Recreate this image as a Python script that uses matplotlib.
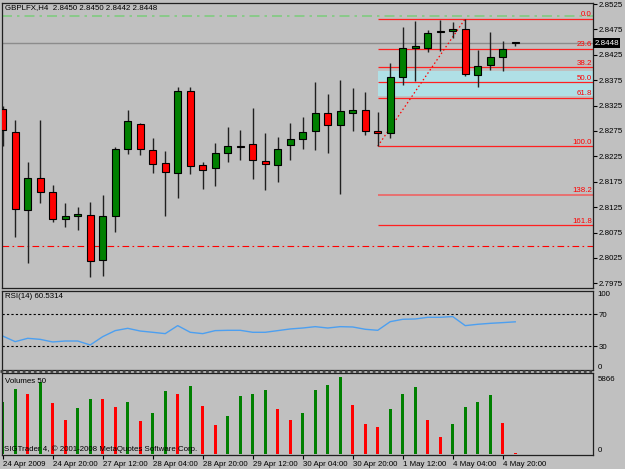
import matplotlib.pyplot as plt
from matplotlib.transforms import blended_transform_factory

plt.rcParams['font.family'] = ['Liberation Sans', 'DejaVu Sans']

# H4 candles, GBPLFX
opens = [2.8318, 2.8272, 2.8120, 2.8182, 2.8155, 2.8102, 2.8107, 2.8109, 2.8020, 2.8108,
         2.8240, 2.8289, 2.8237, 2.8211, 2.8192, 2.8354, 2.8207, 2.8203, 2.8231, 2.8246,
         2.8249, 2.8215, 2.8207, 2.8247, 2.8260, 2.8274, 2.8311, 2.8286, 2.8311, 2.8317,
         2.8275, 2.8270, 2.8381, 2.8439, 2.8439, 2.8469, 2.8472, 2.8476, 2.8386, 2.8404,
         2.8421, 2.8450]
highs = [2.8325, 2.8296, 2.8213, 2.8297, 2.8168, 2.8133, 2.8125, 2.8136, 2.8148, 2.8243,
         2.8316, 2.8290, 2.8261, 2.8236, 2.8362, 2.8361, 2.8213, 2.8251, 2.8282, 2.8277,
         2.8320, 2.8270, 2.8263, 2.8291, 2.8302, 2.8371, 2.8348, 2.8375, 2.8360, 2.8351,
         2.8312, 2.8408, 2.8479, 2.8492, 2.8473, 2.8493, 2.8490, 2.8496, 2.8434, 2.8469,
         2.8452, 2.8450]
lows = [2.8246, 2.8067, 2.8015, 2.8134, 2.8096, 2.8085, 2.8079, 2.7988, 2.7990, 2.8076,
        2.8230, 2.8228, 2.8192, 2.8107, 2.8142, 2.8191, 2.8161, 2.8167, 2.8214, 2.8218,
        2.8180, 2.8158, 2.8175, 2.8218, 2.8240, 2.8238, 2.8232, 2.8150, 2.8275, 2.8268,
        2.8245, 2.8261, 2.8366, 2.8373, 2.8430, 2.8433, 2.8458, 2.8384, 2.8361, 2.8395,
        2.8394, 2.8442]
closes = [2.8276, 2.8122, 2.8182, 2.8155, 2.8101, 2.8108, 2.8111, 2.8018, 2.8108, 2.8240,
          2.8294, 2.8239, 2.8209, 2.8194, 2.8354, 2.8206, 2.8198, 2.8232, 2.8245, 2.8243,
          2.8217, 2.8209, 2.8240, 2.8260, 2.8272, 2.8310, 2.8286, 2.8314, 2.8316, 2.8275,
          2.8270, 2.8381, 2.8438, 2.8442, 2.8467, 2.8472, 2.8476, 2.8388, 2.8403, 2.8420,
          2.8437, 2.8448]
volumes = [3940, 5006, 4625, 5510, 3863, 2614, 3505, 4214, 4180, 3559,
           3940, 2492, 3101, 4800, 4572, 5182, 3680, 2210, 2896, 4473,
           4625, 4877, 3406, 2614, 3147, 4930, 5311, 5866, 3734, 2263,
           2035, 3429, 4572, 5105, 2568, 1295, 2263, 3559, 3940, 4519,
           2339, 40]
rsi = [42.6, 35.5, 39.7, 38.4, 35.1, 36.3, 36.3, 31.3, 41.8, 49.4,
       52.3, 48.9, 47.3, 45.6, 55.7, 47.3, 45.6, 49.4, 49.8, 49.8,
       47.3, 47.3, 49.4, 51.5, 52.7, 54.4, 52.7, 54.4, 54.0, 51.1,
       49.8, 60.7, 63.7, 64.1, 66.2, 66.2, 67.1, 55.7, 57.4, 58.6,
       59.5, 60.5]
time_labels = ['24 Apr 2009', '24 Apr 20:00', '27 Apr 12:00', '28 Apr 04:00', '28 Apr 20:00',
               '29 Apr 12:00', '30 Apr 04:00', '30 Apr 20:00', '1 May 12:00', '4 May 04:00',
               '4 May 20:00']

fib_high = 2.8496
fib_low = 2.8245
fib_start, fib_end = 30, 37
fib_levels = [0.0, 23.6, 38.2, 50.0, 61.8, 100.0, 138.2, 161.8]
zone_top, zone_bottom = 2.8394, 2.8344
green_line = 2.8502
red_line = 2.8048
bid = 2.8448
price_ticks = [2.8525, 2.8475, 2.8425, 2.8375, 2.8325, 2.8275, 2.8225,
               2.8175, 2.8125, 2.8075, 2.8025, 2.7975]

W, H = 625, 469
BG = '#c0c0c0'
FS = 5.7
n = len(closes)
idx = list(range(n))
xlim = (-0.056, 47.22)


def panel(top, bottom):
    return fig.add_axes([2 / W, 1 - bottom / H, 591 / W, (bottom - top) / H])


def style(ax):
    ax.set_facecolor(BG)
    for s in ax.spines.values():
        s.set_color('#202020')
        s.set_linewidth(0.9)
    ax.set_xlim(*xlim)
    ax.yaxis.tick_right()
    ax.tick_params(axis='y', labelsize=FS, length=3, width=0.8, pad=1, colors='black')
    ax.tick_params(axis='x', bottom=False, labelbottom=False)


fig = plt.figure(figsize=(W / 100, H / 100), dpi=100, facecolor=BG)

# ---- price panel
ax = panel(3, 288)
style(ax)
ax.set_ylim(2.79657, 2.85270)
ax.set_yticks(price_ticks)
ax.set_yticklabels([f'{p:.4f}' for p in price_ticks])
for lab in ax.get_yticklabels():
    lab.set_horizontalalignment('left')

ax.axhline(green_line, color='#80cc80', lw=1.2, ls=(0, (6, 3, 1.5, 3)), zorder=1)
ax.axhline(red_line, color='red', lw=0.8, ls=(0, (6, 3, 1.5, 3)), zorder=1)
ax.axhline(bid, color='#8c8c8c', lw=1.0, zorder=1)

ax.fill_between([fib_start, xlim[1]], zone_bottom, zone_top, color='#b0e0e6', lw=0, zorder=1)
trans = blended_transform_factory(ax.transAxes, ax.transData)
for lev in fib_levels:
    p = fib_high - (fib_high - fib_low) * lev / 100
    ax.hlines(p, fib_start, xlim[1], color='#ff2020' if lev != 138.2 else '#e87070',
              lw=0.9 if lev != 138.2 else 1.4, zorder=2)
    ax.text(0.998, p + 0.00008, f'{lev:.1f}', transform=trans, ha='right', va='bottom',
            color='red', fontsize=FS, zorder=6)
ax.plot([fib_start, fib_end], [fib_low, fib_high], color='red', lw=0.9, ls=(0, (1.2, 2)), zorder=2)

ax.vlines(idx, lows, highs, color='#202020', lw=1.0, zorder=3)
body_bottom = [min(o, c) for o, c in zip(opens, closes)]
body_height = [max(abs(c - o), 0.00004) for o, c in zip(opens, closes)]
body_color = ['#008000' if c >= o else '#ff0000' for o, c in zip(opens, closes)]
ax.bar(idx, body_height, bottom=body_bottom, width=0.56, color=body_color,
       edgecolor='black', linewidth=0.8, zorder=4)

ax.text(3 / 591, 0.995, 'GBPLFX,H4  2.8450 2.8450 2.8442 2.8448', transform=ax.transAxes,
        ha='left', va='top', fontsize=FS, color='black')
ax.text(1.002, bid, '2.8448', transform=trans, ha='left', va='center', fontsize=FS,
        color='white', bbox=dict(boxstyle='square,pad=0.15', fc='black', ec='none'), zorder=7)

# ---- RSI panel
ar = panel(290.5, 369.8)
style(ar)
ar.set_ylim(0, 100)
ar.set_yticks([70, 30])
ar.set_yticklabels(['70', '30'])
ar.axhline(70, color='black', lw=0.8, ls=(0, (2, 2)))
ar.axhline(30, color='black', lw=0.8, ls=(0, (2, 2)))
ar.plot(idx, rsi, color='#4c9ff0', lw=1.0)
rtrans = blended_transform_factory(ar.transAxes, ar.transData)
ar.text(1.008, 95.5, '100', transform=rtrans, ha='left', va='center', fontsize=FS)
ar.text(1.008, 3.5, '0', transform=rtrans, ha='left', va='center', fontsize=FS)
ar.text(3 / 591, 0.925, 'RSI(14) 60.5314', transform=ar.transAxes, ha='left', va='center',
        fontsize=FS)

fig.add_artist(plt.Line2D([0, 593 / W], [1 - 371 / H] * 2, color='#404040', lw=2,
                          ls=(0, (1, 1))))

# ---- volume panel
av = panel(373, 455)
style(av)
av.set_ylim(-76, 6195)
av.set_yticks([])
vol_color = ['#008000' if i == 0 or volumes[i] > volumes[i - 1] else '#ff0000' for i in idx]
av.bar(idx, volumes, width=0.27, color=vol_color, lw=0, zorder=2)
vtrans = blended_transform_factory(av.transAxes, av.transData)
av.text(1.008, 5736, '5866', transform=vtrans, ha='left', va='center', fontsize=FS)
av.text(1.008, 306, '0', transform=vtrans, ha='left', va='center', fontsize=FS)
av.text(3 / 591, 0.896, 'Volumes 50', transform=av.transAxes, ha='left', va='center',
        fontsize=FS, zorder=5)
av.text(2 / 591, 0.067, 'SIGTrader 4, \u00a9 2001-2008 MetaQuotes Software Corp.',
        transform=av.transAxes, ha='left', va='center', fontsize=FS, zorder=5)

av.tick_params(axis='x', bottom=True, labelbottom=True, length=3, width=0.8,
               labelsize=FS, pad=1)
av.set_xticks(idx[::4])
av.set_xticklabels(time_labels)
for lab in av.get_xticklabels():
    lab.set_horizontalalignment('left')

fig.savefig('out.png', dpi=100, facecolor=BG)
